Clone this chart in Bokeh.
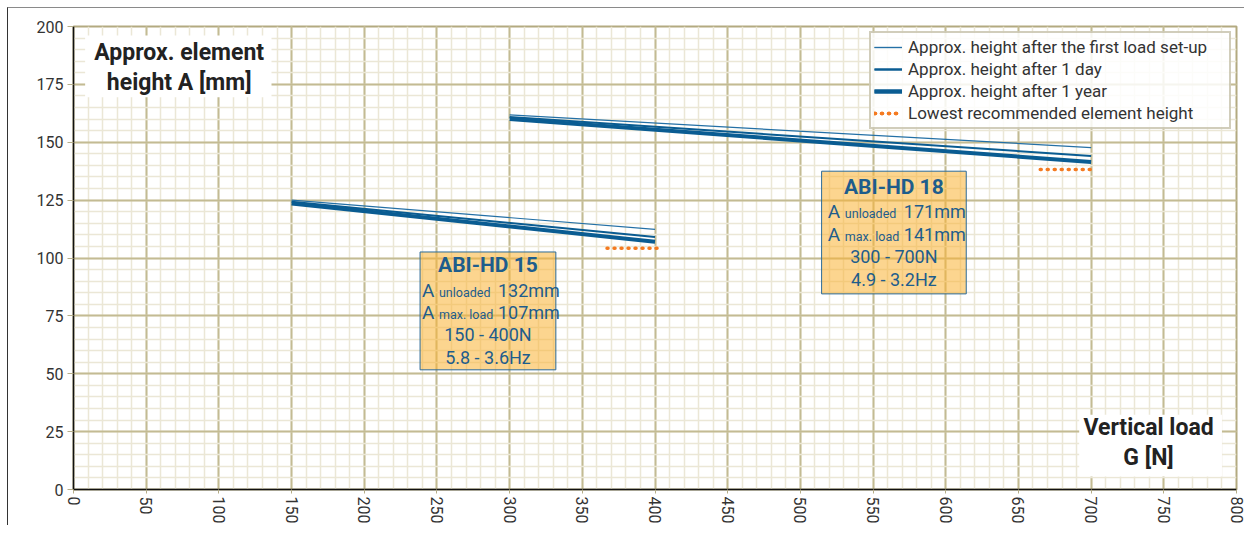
import numpy as np
from bokeh.plotting import figure
from bokeh.models import Range1d, SingleIntervalTicker, Legend, LegendItem
from bokeh.core.properties import value
from bokeh.embed import file_html
from bokeh.resources import INLINE

FONT = "Roboto"

# ---------------- data ----------------
x_ticks_interval = 50
y_ticks_interval = 25

hd15_load = [150, 400]
hd15_first = [125.0, 112.4]
hd15_day = [124.3, 109.1]
hd15_year = [123.5, 107.0]
hd15_min_load = [367, 405]
hd15_min_height = [104.2, 104.2]

hd18_load = [300, 700]
hd18_first = [161.8, 147.7]
hd18_day = [160.9, 144.1]
hd18_year = [160.0, 141.5]
hd18_min_load = [665, 703]
hd18_min_height = [138.2, 138.2]

legend_labels = [
    "Approx. height after the first load set-up",
    "Approx. height after 1 day",
    "Approx. height after 1 year",
    "Lowest recommended element height",
]

hd15_info = ["ABI-HD 15", "132mm", "107mm", "150 - 400N", "5.8 - 3.6Hz"]
hd18_info = ["ABI-HD 18", "171mm", "141mm", "300 - 700N", "4.9 - 3.2Hz"]

BLUE = "#0a5c92"
BLUE_THIN = "#2470a6"
ORANGE = "#f47a20"
TXT = "#333333"
BOXTXT = "#1e5d8c"

p = figure(width=1237, height=518, output_backend="svg", toolbar_location=None,
           x_range=Range1d(0, 800), y_range=Range1d(0, 200),
           min_border_left=65, min_border_top=18, min_border_right=9, min_border_bottom=36)
p.styles = {"margin-left": "7px", "margin-top": "7px",
            "border-top": "1px solid #8a8a8a", "border-left": "1px solid #333333"}
p.outline_line_color = "#b3aa80"
p.outline_line_width = 2

xt = SingleIntervalTicker(interval=x_ticks_interval, num_minor_ticks=5)
yt = SingleIntervalTicker(interval=y_ticks_interval, num_minor_ticks=5)
p.xaxis.ticker = xt
p.yaxis.ticker = yt
p.xgrid.ticker = xt
p.ygrid.ticker = yt
for g in (p.xgrid, p.ygrid):
    g.grid_line_color = "#c3bb93"
    g.grid_line_width = 2
    g.minor_grid_line_color = "#ebe7d6"
    g.minor_grid_line_width = 1.5

for ax in (p.xaxis, p.yaxis):
    ax.axis_line_color = "#111111"
    ax.axis_line_width = 1.5
    ax.major_tick_line_color = "#b5ad88"
    ax.major_tick_in = 0
    ax.minor_tick_out = 0
    ax.minor_tick_in = 0
    ax.major_label_text_font = FONT
    ax.major_label_text_font_size = "16px"
    ax.major_label_text_color = TXT
p.yaxis.major_tick_out = 6
p.yaxis.major_label_standoff = 4
p.xaxis.major_tick_out = 4
p.xaxis.major_label_standoff = 3
p.xaxis.major_label_orientation = "vertical"

# ---------------- info boxes (behind lines) ----------------
def info_box(left, right, top, bottom, cx, ys, info):
    p.quad(left=left, right=right, top=top, bottom=bottom,
           fill_color="#f9b233", fill_alpha=0.55, line_color="#2c6a98", line_width=1)
    p.text(x=[cx], y=[ys[0]], text=[info[0]], text_font=value(FONT), text_font_style="bold",
           text_font_size="21px", text_color=BOXTXT, text_align="center", text_baseline="middle")
    for yy, sub, val in ((ys[1], "unloaded", info[1]), (ys[2], "max. load", info[2])):
        p.text(x=[cx], y=[yy], text=["A"], x_offset=-66, text_font=value(FONT),
               text_font_size="19px", text_color=BOXTXT, text_align="left", text_baseline="middle")
        p.text(x=[cx], y=[yy], text=[sub], x_offset=-49, y_offset=2, text_font=value(FONT),
               text_font_size="12.5px", text_color=BOXTXT, text_align="left", text_baseline="middle")
        p.text(x=[cx], y=[yy], text=[val], x_offset=10, text_font=value(FONT),
               text_font_size="18px", text_color=BOXTXT, text_align="left", text_baseline="middle")
    for yy, t in ((ys[3], info[3]), (ys[4], info[4])):
        p.text(x=[cx], y=[yy], text=[t], text_font=value(FONT),
               text_font_size="18px", text_color=BOXTXT, text_align="center", text_baseline="middle")

info_box(238.4, 331.8, 102.6, 51.7, 285.1, [96.8, 85.8, 76.3, 66.8, 56.9], hd15_info)
info_box(514.6, 614.1, 137.5, 84.5, 564.3, [130.8, 120.3, 110.3, 100.6, 90.9], hd18_info)

# ---------------- axis titles ----------------
p.quad(left=8, right=136.2, top=196.1, bottom=169.4, fill_color="white", line_color=None)
p.text(x=[72.7, 72.7], y=[188.8, 175.9], text=["Approx. element", "height A [mm]"],
       text_font=value(FONT), text_font_style="bold", text_font_size="23px",
       text_color="#222222", text_align="center", text_baseline="middle")
p.quad(left=691.8, right=790, top=32.3, bottom=5.6, fill_color="white", line_color=None)
p.text(x=[739.5, 739.5], y=[26.7, 13.8], text=["Vertical load", "G [N]"],
       text_font=value(FONT), text_font_style="bold", text_font_size="23px",
       text_color="#222222", text_align="center", text_baseline="middle")

# ---------------- lines ----------------
r15a = p.line(hd15_load, hd15_first, line_color=BLUE_THIN, line_width=1.2)
r15b = p.line(hd15_load, hd15_day, line_color=BLUE, line_width=2)
r15c = p.line(hd15_load, hd15_year, line_color=BLUE, line_width=4)
r15d = p.line(hd15_min_load, hd15_min_height, line_color=ORANGE, line_width=3.5,
              line_dash="1 6", line_cap="round")
r18a = p.line(hd18_load, hd18_first, line_color=BLUE_THIN, line_width=1.2)
r18b = p.line(hd18_load, hd18_day, line_color=BLUE, line_width=2)
r18c = p.line(hd18_load, hd18_year, line_color=BLUE, line_width=4)
r18d = p.line(hd18_min_load, hd18_min_height, line_color=ORANGE, line_width=3.5,
              line_dash="1 6", line_cap="round")

legend = Legend(items=[
    LegendItem(label=legend_labels[0], renderers=[r15a, r18a]),
    LegendItem(label=legend_labels[1], renderers=[r15b, r18b]),
    LegendItem(label=legend_labels[2], renderers=[r15c, r18c]),
    LegendItem(label=legend_labels[3], renderers=[r15d, r18d]),
], location="top_right")
legend.margin = 5
legend.padding = 3
legend.spacing = 0
legend.label_height = 22
legend.glyph_height = 22
legend.glyph_width = 28
legend.label_standoff = 6
legend.label_width = 318
legend.label_text_font = FONT
legend.label_text_font_size = "17px"
legend.label_text_color = TXT
legend.border_line_color = "#a39b78"
legend.border_line_width = 2
legend.background_fill_color = "white"
legend.background_fill_alpha = 0.85
p.add_layout(legend)

open("out.html", "w").write(file_html(p, INLINE))
